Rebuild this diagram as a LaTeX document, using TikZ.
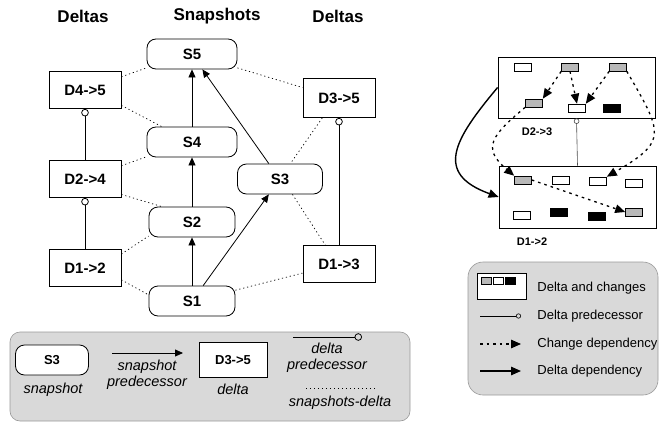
\documentclass[tikz,border=0pt]{standalone}
\usepackage{fontspec}
\setmainfont{Liberation Sans}
\usetikzlibrary{arrows.meta}
\definecolor{keygray}{gray}{0.85}
\definecolor{keyline}{gray}{0.6}
\definecolor{chgray}{gray}{0.72}
\begin{document}
\begin{tikzpicture}[x = 1pt, y = 1pt, line width = 0.8pt,
  every node/.append style = {inner sep = 0pt, align = center},
  colhead/.style = {font = \fontsize{17}{20}\selectfont\bfseries},
  snap/.style = {draw, fill = white, rounded corners = 9pt, minimum width = 90pt, minimum height = 30pt, font = \fontsize{15}{18}\selectfont\bfseries},
  delta/.style = {draw, fill = white, minimum width = 72pt, minimum height = 37pt, font = \fontsize{15}{18}\selectfont\bfseries},
  pred/.style = {-{Triangle[length = 8pt, width = 7pt]}},
  dpred/.style = {-{Circle[open, length = 7.5pt, width = 7.5pt]}},
  sdlink/.style = {line width = 0.7pt, dash pattern = on 1.2pt off 2.8pt},
  keybox/.style = {fill = keygray, draw = keyline, line width = 0.6pt},
  keytext/.style = {font = \fontsize{14.5}{16}\selectfont\itshape},
  rkey/.style = {anchor = west, font = \fontsize{13}{15}\selectfont},
  chg/.style = {draw, line width = 0.6pt, minimum width = 17pt, minimum height = 8pt},
  chdep/.style = {line width = 1.3pt, dash pattern = on 2.6pt off 4pt, -{Triangle[length = 10pt, width = 8.5pt]}},
  ddep/.style = {line width = 1.4pt, -{Triangle[length = 10pt, width = 8.5pt]}}]

  \useasboundingbox (0, 0) rectangle (659, -423);

  \node[colhead] (hdl) at (83, -16) {Deltas};
  \node[colhead] (hds) at (217, -16) {Snapshots};
  \node[colhead] (hdr) at (338, -16) {Deltas};

  \node[snap] (s5) at (192, -54) {S5};
  \node[snap] (s4) at (192, -142) {S4};
  \node[snap, minimum width = 86pt] (s2) at (192, -222) {S2};
  \node[snap, minimum width = 86pt] (s1) at (192, -301) {S1};
  \node[snap, minimum width = 85pt] (s3) at (280, -179) {S3};

  \node[delta] (d45) at (85, -90) {D4->5};
  \node[delta] (d24) at (85, -179) {D2->4};
  \node[delta] (d12) at (85, -268) {D1->2};
  \node[delta, minimum height = 39pt] (d35) at (339, -98) {D3->5};
  \node[delta] (d13) at (339, -264) {D1->3};

  \draw[pred] (s1.north) -- (s2.south);
  \draw[pred] (s2.north) -- (s4.south);
  \draw[pred] (s4.north) -- (s5.south);
  \draw[pred] (s1.54) -- (s3.234);
  \draw[pred] (s3.126) -- (s5.304);

  \draw[dpred] (d12.north) -- (d24.south);
  \draw[dpred] (d24.north) -- (d45.south);
  \draw[dpred] (d13.north) -- (d35.south);

  \draw[sdlink] (d45.20) -- (s5.197);
  \draw[sdlink] (d45.337) -- (s4.153);
  \draw[sdlink] (d24.20) -- (s4.198);
  \draw[sdlink] (d24.337) -- (s2.153);
  \draw[sdlink] (d12.21) -- (s2.198);
  \draw[sdlink] (d12.342) -- (s1.172);
  \draw[sdlink] (s5.343) -- (d35.164);
  \draw[sdlink] (d35.230) -- (s3.56);
  \draw[sdlink] (s3.309) -- (d13.126);
  \draw[sdlink] (s1.14) -- (d13.194);

  \filldraw[keybox, rounded corners = 10pt] (10, -332) rectangle (410, -421);

  \node[snap, minimum width = 73pt, font = \fontsize{13}{16}\selectfont\bfseries] (ks3) at (52, -360) {S3};
  \node[keytext] (ks3t) at (53, -390) {snapshot};
  \coordinate (kpa) at (112, -353);
  \coordinate (kpb) at (183, -353);
  \draw[pred] (kpa) -- (kpb);
  \node[keytext] (kpt) at (147, -375) {snapshot\\predecessor};
  \node[delta, minimum width = 68pt, minimum height = 35pt, font = \fontsize{13}{16}\selectfont\bfseries] (kd) at (233, -360) {D3->5};
  \node[keytext] (kdt) at (233, -389) {delta};
  \coordinate (kda) at (293, -337);
  \coordinate (kdb) at (362, -337);
  \draw[dpred] (kda) -- (kdb);
  \node[keytext] (kdpt) at (327, -358) {delta\\predecessor};
  \coordinate (ksa) at (306, -388);
  \coordinate (ksb) at (377, -388);
  \draw[sdlink] (ksa) -- (ksb);
  \node[keytext] (kst) at (340, -403) {snapshots-delta};

  \node[draw, minimum width = 157pt, minimum height = 61pt] (dtop) at (576.5, -87.5) {};
  \node[draw, minimum width = 157pt, minimum height = 62pt] (dbot) at (577.5, -197) {};
  \node[font = \fontsize{11}{13}\selectfont\bfseries] (ltop) at (537, -132) {D2->3};
  \node[font = \fontsize{11}{13}\selectfont\bfseries] (lbot) at (532, -242) {D1->2};

  \node[chg, fill = white] (t1) at (523, -67) {};
  \node[chg, fill = chgray] (t2) at (570, -67) {};
  \node[chg, fill = chgray] (t3) at (618, -67) {};
  \node[chg, fill = chgray] (t4) at (534, -103) {};
  \node[chg, fill = white] (t5) at (577, -108) {};
  \node[chg, fill = black] (t6) at (612, -108) {};

  \node[chg, fill = chgray] (b1) at (523, -180) {};
  \node[chg, fill = white] (b2) at (561, -180) {};
  \node[chg, fill = white] (b3) at (598, -181) {};
  \node[chg, fill = white] (b4) at (634, -183) {};
  \node[chg, fill = white] (b5) at (522, -215) {};
  \node[chg, fill = black] (b6) at (559, -212) {};
  \node[chg, fill = black] (b7) at (597, -216) {};
  \node[chg, fill = chgray] (b8) at (634, -212) {};

  \draw[chdep] (t2.south west) -- (t4.north east);
  \draw[chdep] (t2.south) -- (t5.north);
  \draw[chdep] (t3.south west) -- (t5.north east);
  \draw[chdep] (t4.south west) to[out = 220, in = 140, looseness = 1.6] (b1.north west);
  \draw[chdep] (t3.south east) to[out = -60, in = 30, looseness = 1.7] (b3.north east);
  \draw[chdep] (b1.east) -- (b8.west);
  \draw[ddep] (dtop.west) to[out = 230, in = 160, looseness = 1.6] (dbot.west);
  \draw[line width = 0.6pt, draw = black!70, -{Circle[open, length = 5.5pt, width = 5.5pt]}] (dbot.north) -- (dtop.south);

  \filldraw[keybox, rounded corners = 15pt] (468, -262) rectangle (658, -395);

  \node[draw, fill = white, line width = 0.8pt, minimum width = 49pt, minimum height = 26pt] (kicon) at (501.5, -286) {};
  \node[chg, fill = chgray, minimum width = 10pt, minimum height = 7pt] (kig) at (486, -280.5) {};
  \node[chg, fill = white, minimum width = 10pt, minimum height = 7pt] (kiw) at (498, -280.5) {};
  \node[chg, fill = black, minimum width = 10pt, minimum height = 7pt] (kib) at (510, -280.5) {};
  \node[rkey] (kt1) at (537, -288) {Delta and changes};

  \coordinate (kra) at (480, -316);
  \coordinate (krb) at (521, -316);
  \draw[line width = 0.6pt, -{Circle[open, length = 5pt, width = 5pt]}] (kra) -- (krb);
  \node[rkey] (kt2) at (537, -316) {Delta predecessor};

  \coordinate (kca) at (480, -344);
  \coordinate (kcb) at (521, -344);
  \draw[chdep] (kca) -- (kcb);
  \node[rkey] (kt3) at (537, -344) {Change dependency};

  \coordinate (kea) at (480, -371);
  \coordinate (keb) at (521, -371);
  \draw[ddep] (kea) -- (keb);
  \node[rkey] (kt4) at (537, -371) {Delta dependency};

\end{tikzpicture}
\end{document}
